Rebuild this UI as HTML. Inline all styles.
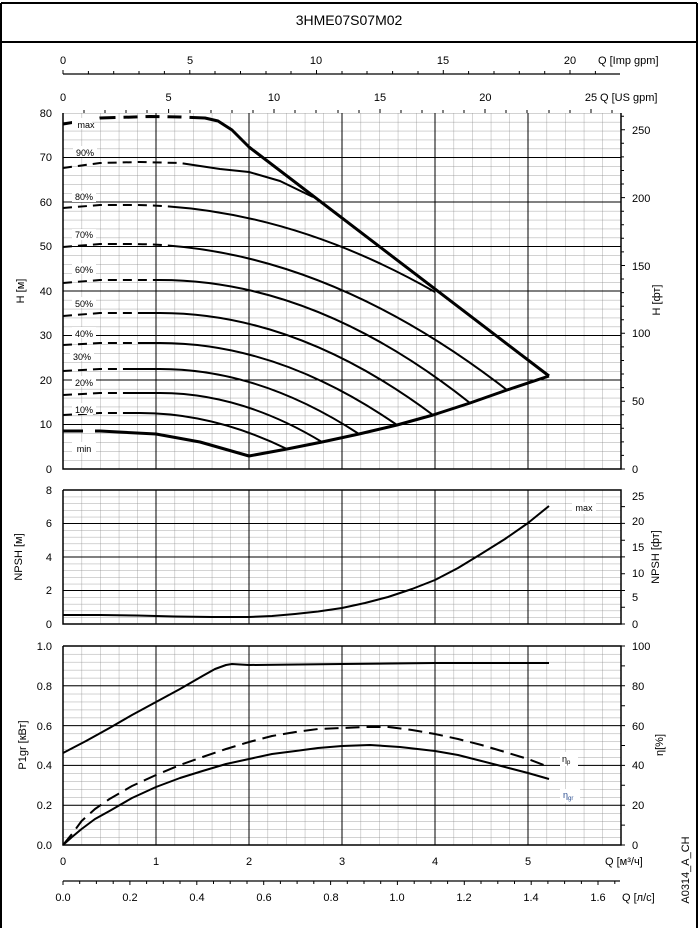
<!DOCTYPE html>
<html><head><meta charset="utf-8"><style>
html,body{margin:0;padding:0;background:#fff;}
svg{display:block;font-family:"Liberation Sans",sans-serif;}
.t{font-size:11px;fill:#000;}
.s{font-size:9px;fill:#000;}
.c{fill:none;stroke:#000;stroke-width:2;stroke-linejoin:round;stroke-linecap:butt;}
.th{stroke-width:3;}
.mj{stroke:#000;stroke-width:1;}
</style></head><body>
<svg width="699" height="928" viewBox="0 0 699 928">
<defs>
<pattern id="gt" patternUnits="userSpaceOnUse" x="63" y="113" width="18.6" height="8.9"><path d="M0,0V8.9M0,0H18.6" stroke="#888" stroke-width="0.7" fill="none"/></pattern>
<pattern id="gn" patternUnits="userSpaceOnUse" x="63" y="490" width="18.6" height="6.7"><path d="M0,0V6.7M0,0H18.6" stroke="#888" stroke-width="0.7" fill="none"/></pattern>
<pattern id="gp" patternUnits="userSpaceOnUse" x="63" y="646" width="18.6" height="7.96"><path d="M0,0V7.96M0,0H18.6" stroke="#888" stroke-width="0.7" fill="none"/></pattern>
</defs>
<!-- frame -->
<path d="M1,3H697M1,3V928M697,3V928M1,42H697" stroke="#000" stroke-width="2" fill="none"/>
<text x="349" y="25" text-anchor="middle" font-size="14">3HME07S07M02</text>

<!-- Imp gpm axis -->
<line x1="63" y1="74" x2="620" y2="74" stroke="#000" stroke-width="1.2"/>
<g stroke="#000" stroke-width="1">
<path d="M63,74v-4M88.4,74v-3M113.7,74v-3M139,74v-3M164.4,74v-3M189.8,74v-4M215,74v-3M240.5,74v-3M266,74v-3M291,74v-3M316.5,74v-4M342,74v-3M367,74v-3M392.6,74v-3M418,74v-3M443.3,74v-4M468.6,74v-3M494,74v-3M519.3,74v-3M544.7,74v-3M570,74v-4M595.4,74v-3"/>
</g>
<g class="t" text-anchor="middle">
<text x="63" y="64">0</text><text x="190" y="64">5</text><text x="316" y="64">10</text><text x="443" y="64">15</text><text x="570" y="64">20</text>
</g>
<text x="598" y="64" class="t">Q [Imp gpm]</text>
<g class="t" text-anchor="middle">
<text x="63" y="101">0</text><text x="168.6" y="101">5</text><text x="274" y="101">10</text><text x="380" y="101">15</text><text x="485.4" y="101">20</text><text x="591" y="101">25</text>
</g>
<text x="600" y="101" class="t">Q [US gpm]</text>

<!-- TOP CHART -->
<rect x="63" y="113" width="558" height="356" fill="url(#gt)"/>
<g class="mj">
<path d="M156,113V469M249,113V469M342,113V469M435,113V469M528,113V469"/>
<path d="M63,157.5H621M63,202H621M63,246.5H621M63,291H621M63,335.5H621M63,380H621M63,424.5H621"/>
</g>
<path d="M63,113V469H621V113" stroke="#000" stroke-width="1.5" fill="none"/>
<g stroke="#000" stroke-width="1"><path d="M84,113v-3M105,113v-3M126,113v-3M147,113v-3M168.6,113v-4M190,113v-3M211,113v-3M232,113v-3M253,113v-3M274,113v-4M295,113v-3M316,113v-3M338,113v-3M359,113v-3M380,113v-4M401,113v-3M422,113v-3M443,113v-3M464,113v-3M485,113v-4M506,113v-3M527,113v-3M549,113v-3M570,113v-3M591,113v-4M612,113v-3"/></g>
<g stroke="#000" stroke-width="1"><path d="M621,469h4M621,455.4h3M621,441.9h3M621,428.3h3M621,414.7h3M621,401.2h4M621,387.6h3M621,374h3M621,360.5h3M621,346.9h3M621,333.3h4M621,319.7h3M621,306.2h3M621,292.6h3M621,279h3M621,265.5h4M621,251.9h3M621,238.3h3M621,224.8h3M621,211.2h3M621,197.6h4M621,184h3M621,170.5h3M621,156.9h3M621,143.3h3M621,129.8h4M621,116.2h3"/></g>
<g class="t" text-anchor="end">
<text x="52" y="117">80</text><text x="52" y="161">70</text><text x="52" y="206">60</text><text x="52" y="250">50</text><text x="52" y="295">40</text><text x="52" y="339">30</text><text x="52" y="384">20</text><text x="52" y="428">10</text><text x="52" y="473">0</text>
</g>
<g class="t">
<text x="632" y="134">250</text><text x="632" y="202">200</text><text x="632" y="270">150</text><text x="632" y="337">100</text><text x="632" y="405">50</text><text x="632" y="473">0</text>
</g>
<text transform="translate(24,291) rotate(-90)" class="t" text-anchor="middle">H [м]</text>
<text transform="translate(660,300) rotate(-90)" class="t" text-anchor="middle">H [фт]</text>

<!-- pump curves -->
<path class="c" d="M63,431 L100,431 L156,434 L200,442 L249,456 L287,449 L322,442 L359,434 L397,425 L433,415 L470,403 L507,390 L549,376" style="stroke-width:3" stroke-dasharray="20 12 2000"/>
<path class="c" d="M63,415 L100,413 L140,413 Q213.5,413 287,449" stroke-dasharray="9 6 9 6 9 6 9 6 2000"/>
<path class="c" d="M63,395 L100,393 L160,393 Q241,393 322,442" stroke-dasharray="9 6 9 6 9 6 9 6 2000"/>
<path class="c" d="M63,371 L100,369 L160,369 Q259.5,369 359,434" stroke-dasharray="9 6 9 6 9 6 9 6 2000"/>
<path class="c" d="M63,345 L100,343 L160,343 Q278.5,343 397,425" stroke-dasharray="9 6 9 6 9 6 9 6 9 6 2000"/>
<path class="c" d="M63,316 L100,313 L160,313 Q296.5,313 433,415" stroke-dasharray="9 6 9 6 9 6 9 6 9 6 2000"/>
<path class="c" d="M63,283 L100,280 L160,280 Q315,280 470,403" stroke-dasharray="9 6 9 6 9 6 9 6 9 6 9 6 2000"/>
<path class="c" d="M63,247 L100,244 L130,244 Q318.5,244 507,390" stroke-dasharray="9 6 9 6 9 6 9 6 9 6 9 6 9 6 2000"/>
<path class="c" d="M63,208 L100,205 L130,205 Q282.5,205 435,292" stroke-dasharray="9 6 9 6 9 6 9 6 9 6 9 6 9 6 2000"/>
<path class="c" d="M63,168 L100,163 L140,162 L180,163 L220,169 L249,172 L280,181 L313,197" stroke-dasharray="9 6 9 6 9 6 9 6 9 6 9 6 9 6 9 6 2000"/>
<path class="c" d="M63,124 L100,118 L150,116.5 L180,117 L205,118 L218,121 L232,130 L249,147 L549,376" style="stroke-width:3" stroke-dasharray="13 24 16 8 14 8 14 8 14 8 2000"/>

<g class="s" text-anchor="middle">
<rect x="72" y="118" width="20" height="11" fill="#fff"/><text x="86" y="128">max</text>
<rect x="73" y="146" width="24" height="11" fill="#fff"/><text x="85" y="156">90%</text>
<rect x="72" y="191" width="24" height="11" fill="#fff"/><text x="84" y="200">80%</text>
<rect x="72" y="229" width="24" height="11" fill="#fff"/><text x="84" y="238">70%</text>
<rect x="72" y="263" width="24" height="11" fill="#fff"/><text x="84" y="273">60%</text>
<rect x="72" y="297" width="24" height="11" fill="#fff"/><text x="84" y="307">50%</text>
<rect x="72" y="327" width="24" height="11" fill="#fff"/><text x="84" y="337">40%</text>
<rect x="70" y="350" width="24" height="11" fill="#fff"/><text x="82" y="360">30%</text>
<rect x="72" y="376" width="24" height="11" fill="#fff"/><text x="84" y="386">20%</text>
<rect x="72" y="403" width="24" height="11" fill="#fff"/><text x="84" y="413">10%</text>
<rect x="72" y="442" width="24" height="11" fill="#fff"/><text x="84" y="452">min</text>
</g>

<!-- NPSH CHART -->
<rect x="63" y="490" width="558" height="134" fill="url(#gn)"/>
<g class="mj">
<path d="M156,490V624M249,490V624M342,490V624M435,490V624M528,490V624"/>
<path d="M63,590.5H621M63,557H621M63,523.5H621"/>
</g>
<path d="M63,490V624H621V490H63" stroke="#000" stroke-width="1.5" fill="none"/>
<g stroke="#000" stroke-width="1"><path d="M621,624h4M621,607.2h4M621,590.5h4M621,573.7h4M621,556.9h4M621,540.2h4M621,523.4h4M621,506.6h4"/></g>
<g class="t" text-anchor="end">
<text x="52" y="494">8</text><text x="52" y="561">4</text><text x="52" y="527">6</text><text x="52" y="594">2</text><text x="52" y="628">0</text>
</g>
<g class="t">
<text x="632" y="500">25</text><text x="632" y="525">20</text><text x="632" y="551">15</text><text x="632" y="577">10</text><text x="632" y="601">5</text><text x="632" y="628">0</text>
</g>
<text transform="translate(22,557) rotate(-90)" class="t" text-anchor="middle">NPSH [м]</text>
<text transform="translate(659,557) rotate(-90)" class="t" text-anchor="middle">NPSH [фт]</text>
<path class="c" d="M63,615 L100,615 L137,615.5 L175,616.5 L212,617 L249,617 L272,616 L295,614 L318,611.5 L342,608 L365,603 L388,597 L412,589 L435,580 L458,568 L481,554 L505,539 L528,523 L549,506"/>
<rect x="572" y="502" width="24" height="12" fill="#fff"/><text x="584" y="511" class="s" text-anchor="middle">max</text>

<!-- POWER CHART -->
<rect x="63" y="646" width="558" height="199" fill="url(#gp)"/>
<g class="mj">
<path d="M156,646V845M249,646V845M342,646V845M435,646V845M528,646V845"/>
<path d="M63,805.2H621M63,765.4H621M63,725.6H621M63,685.8H621"/>
</g>
<path d="M63,646V845H621V646H63" stroke="#000" stroke-width="1.5" fill="none"/>
<g stroke="#000" stroke-width="1"><path d="M621,845h4M621,825.1h4M621,805.2h4M621,785.3h4M621,765.4h4M621,745.5h4M621,725.6h4M621,705.7h4M621,685.8h4M621,665.9h4M621,646h4"/></g>
<g class="t" text-anchor="end">
<text x="52" y="650">1.0</text><text x="52" y="690">0.8</text><text x="52" y="730">0.6</text><text x="52" y="769">0.4</text><text x="52" y="809">0.2</text><text x="52" y="849">0.0</text>
</g>
<g class="t">
<text x="632" y="650">100</text><text x="632" y="690">80</text><text x="632" y="730">60</text><text x="632" y="769">40</text><text x="632" y="809">20</text><text x="632" y="849">0</text>
</g>
<text transform="translate(26,745) rotate(-90)" class="t" text-anchor="middle">P1gr [кВт]</text>
<text transform="translate(663,745) rotate(-90)" class="t" text-anchor="middle">η[%]</text>
<path class="c" d="M63,753 L86,741 L109.5,728 L132,715 L156,702 L180,689 L202.5,676 L215,669 L226,665 L232,664 L240,664.5 L249,665 L342,664 L435,663 L549,663"/>
<path class="c" d="M63,845 L72,834 L81.6,821 L95,809 L109.5,799 L132,786 L156,775 L180,765 L202.5,757 L226,749 L249,742 L272,736 L295.5,732 L318,729 L342,728 L365,727 L388.5,727 L412,730 L435,734 L458,739 L481.5,745 L505,752 L528,759 L549,767" stroke-dasharray="14 7"/>
<path class="c" d="M63,845 L72,837 L81.6,829 L95,819 L109.5,811 L132,798 L156,787 L180,778 L202.5,771 L226,764 L249,759 L272,754 L295.5,751 L318,748 L342,746 L370,745 L400,747 L435,751 L458,755 L481.5,761 L505,767 L528,773 L549,779"/>
<rect x="560" y="752" width="18" height="14" fill="#fff"/><text x="562" y="762" font-size="9">η<tspan font-size="6" dy="2">p</tspan></text>
<rect x="560" y="789" width="20" height="14" fill="#fff"/><text x="563" y="798" font-size="9" fill="#2a4d8f">η<tspan font-size="6" dy="2">gr</tspan></text>

<!-- bottom axes -->
<g class="t" text-anchor="middle">
<text x="63" y="865">0</text><text x="156" y="865">1</text><text x="249" y="865">2</text><text x="342" y="865">3</text><text x="435" y="865">4</text><text x="528" y="865">5</text>
</g>
<text x="605" y="865" class="t">Q [м³/ч]</text>
<line x1="63" y1="881" x2="620" y2="881" stroke="#000" stroke-width="1.2"/>
<g stroke="#000" stroke-width="1"><path d="M63,881v4M79.7,881v3M96.4,881v3M113.2,881v3M129.9,881v4M146.6,881v3M163.3,881v3M180,881v3M196.8,881v4M213.5,881v3M230.2,881v3M247,881v3M263.7,881v4M280.4,881v3M297.1,881v3M313.8,881v3M330.6,881v4M347.3,881v3M364,881v3M380.7,881v3M397.4,881v4M414.2,881v3M430.9,881v3M447.6,881v3M464.3,881v4M481,881v3M497.8,881v3M514.5,881v3M531.2,881v4M547.9,881v3M564.6,881v3M581.4,881v3M598,881v4M614.8,881v3"/></g>
<g class="t" text-anchor="middle">
<text x="63" y="901">0.0</text><text x="130" y="901">0.2</text><text x="197" y="901">0.4</text><text x="264" y="901">0.6</text><text x="331" y="901">0.8</text><text x="397" y="901">1.0</text><text x="464" y="901">1.2</text><text x="531" y="901">1.4</text><text x="598" y="901">1.6</text>
</g>
<text x="622" y="901" class="t">Q [л/с]</text>
<text transform="translate(689,870) rotate(-90)" class="t" text-anchor="middle">A0314_A_CH</text>
</svg>
</body></html>
